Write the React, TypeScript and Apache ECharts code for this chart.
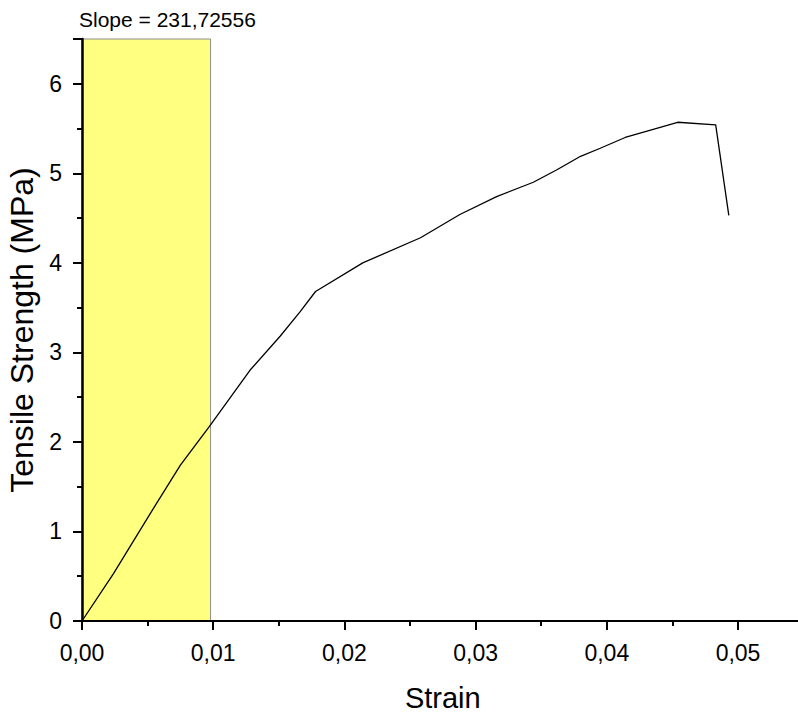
import React, { useEffect, useRef } from "react";
import * as echarts from "echarts";

const strain = [0, 0.0024, 0.0052, 0.0075, 0.0097, 0.0128, 0.0151, 0.0166, 0.0178, 0.0214, 0.0258, 0.0288, 0.0316, 0.0344, 0.0362, 0.038, 0.0395, 0.0414, 0.0454, 0.0483, 0.0493];
const stress = [0, 0.53, 1.2, 1.74, 2.17, 2.8, 3.18, 3.45, 3.68, 4.0, 4.28, 4.54, 4.74, 4.9, 5.04, 5.19, 5.28, 5.4, 5.57, 5.54, 4.53];
const fitRange = [-0.0003, 0.0098];
const slopeText = "Slope = 231,72556";
const xTitle = "Strain";
const yTitle = "Tensile Strength (MPa)";

const FONT = "'Liberation Sans', Arial, sans-serif";

export default function App() {
  const ref = useRef<HTMLDivElement>(null);
  useEffect(() => {
    document.body.style.margin = "0";
    const chart = echarts.init(ref.current!, null, { renderer: "svg" });
    const data = strain.map((s, i) => [s, stress[i]]);
    chart.setOption({
      animation: false,
      backgroundColor: "#ffffff",
      title: {
        text: slopeText,
        left: 79,
        top: 9,
        padding: 0,
        textStyle: { fontSize: 21, fontWeight: "normal", color: "#000", fontFamily: FONT },
      },
      grid: { left: 82, top: 39, bottom: 95, right: -5.6, containLabel: false, outerBoundsMode: "none" },
      xAxis: {
        type: "value",
        min: 0,
        max: 0.055,
        interval: 0.01,
        z: 10,
        name: xTitle,
        nameLocation: "middle",
        nameGap: 62,
        nameTextStyle: { fontSize: 29, color: "#000", fontFamily: FONT },
        axisLine: { show: true, onZero: false, lineStyle: { color: "#000", width: 2 } },
        axisTick: { show: true, inside: false, length: 9, lineStyle: { color: "#000", width: 2 } },
        minorTick: { show: true, splitNumber: 2, length: 5, lineStyle: { color: "#000", width: 2 } },
        splitLine: { show: false },
        axisLabel: {
          margin: 20,
          fontSize: 23,
          color: "#000",
          fontFamily: FONT,
          showMaxLabel: false,
          formatter: (v: number) => v.toFixed(2).replace(".", ","),
        },
      },
      yAxis: {
        type: "value",
        min: 0,
        max: 6.5,
        interval: 1,
        z: 10,
        name: yTitle,
        nameLocation: "middle",
        nameGap: 38,
        nameTextStyle: { fontSize: 32, color: "#000", fontFamily: FONT },
        axisLine: { show: true, onZero: false, lineStyle: { color: "#000", width: 2.5 } },
        axisTick: { show: true, inside: false, length: 9, lineStyle: { color: "#000", width: 2 } },
        minorTick: { show: true, splitNumber: 2, length: 5, lineStyle: { color: "#000", width: 2 } },
        splitLine: { show: false },
        axisLabel: {
          margin: 20,
          fontSize: 23,
          color: "#000",
          fontFamily: FONT,
          showMaxLabel: false,
          formatter: (v: number) => String(v),
        },
      },
      series: [
        {
          type: "line",
          data,
          clip: false,
          symbol: "none",
          lineStyle: { color: "#000", width: 1.3 },
          markArea: {
            silent: true,
            itemStyle: { color: "#ffff80", borderColor: "#8c8c8c", borderWidth: 1 },
            data: [[{ xAxis: fitRange[0], yAxis: 0 }, { xAxis: fitRange[1], yAxis: 6.5 }]],
          },
        },
      ],
    });
    return () => chart.dispose();
  }, []);
  return <div ref={ref} style={{ width: 798, height: 716 }} />;
}
